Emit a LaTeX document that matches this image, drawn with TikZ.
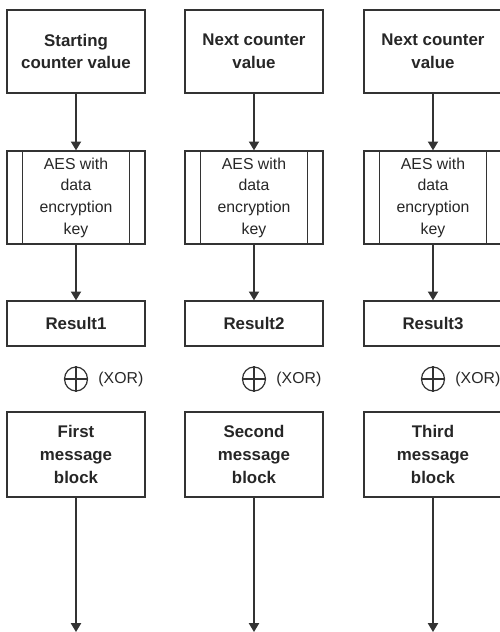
\documentclass[tikz,border=0pt]{standalone}
\usepackage{fontspec}
\setmainfont{Liberation Sans}
\usetikzlibrary{shapes.geometric, arrows.meta, positioning}

\begin{document}
\begin{tikzpicture}[
  >={Triangle[length=5pt,width=5.8pt]},
  every node/.style={text=black!85},
  box/.style={draw=black!80, line width=0.75pt, minimum width=2.76cm, inner sep=0pt,
    align=center, font=\fontsize{9.6}{13}\selectfont\bfseries},
  procbox/.style={box, font=\fontsize{9}{12.3}\selectfont},
  xorsym/.style={ellipse, draw=black!80, line width=0.7pt, inner sep=0pt,
    minimum width=0.46cm, minimum height=0.48cm},
  link/.style={draw=black!80, line width=0.7pt, ->}
]
  % frame
  \clip (0,0) rectangle (10,-12.64);

  \foreach \i/\x/\ctr/\blk in {1/1.52/{Starting\\counter value}/First,
      2/5.08/{Next counter\\value}/Second, 3/8.66/{Next counter\\value}/Third} {
    % boxes
    \node[box, minimum height=1.66cm] (ctr\i) at (\x,-1.03) {\ctr};
    \node[procbox, minimum height=1.86cm] (aes\i) at (\x,-3.95) {AES with\\data\\encryption\\key};
    \node[box, minimum height=0.9cm] (res\i) at (\x,-6.47) {Result\i};
    \node[xorsym] (xor\i) at (\x,-7.58) {};
    \node[right=0.2cm of xor\i, inner sep=0pt, font=\fontsize{9}{11}\selectfont] (xl\i) {(XOR)};
    \node[box, minimum height=1.7cm] (msg\i) at (\x,-9.09) {\blk\\message\\block};
    \coordinate (out\i) at (\x,-12.64);

    % side bars and xor cross
    \draw[draw=black!80, line width=0.7pt]
      ([xshift=0.32cm]aes\i.north west) -- ([xshift=0.32cm]aes\i.south west)
      ([xshift=-0.32cm]aes\i.north east) -- ([xshift=-0.32cm]aes\i.south east)
      (xor\i.north) -- (xor\i.south) (xor\i.west) -- (xor\i.east);

    % arrows
    \draw[link] (ctr\i) -- (aes\i);
    \draw[link] (aes\i) -- (res\i);
    \draw[link] (msg\i) -- (out\i);
  }
\end{tikzpicture}
\end{document}
